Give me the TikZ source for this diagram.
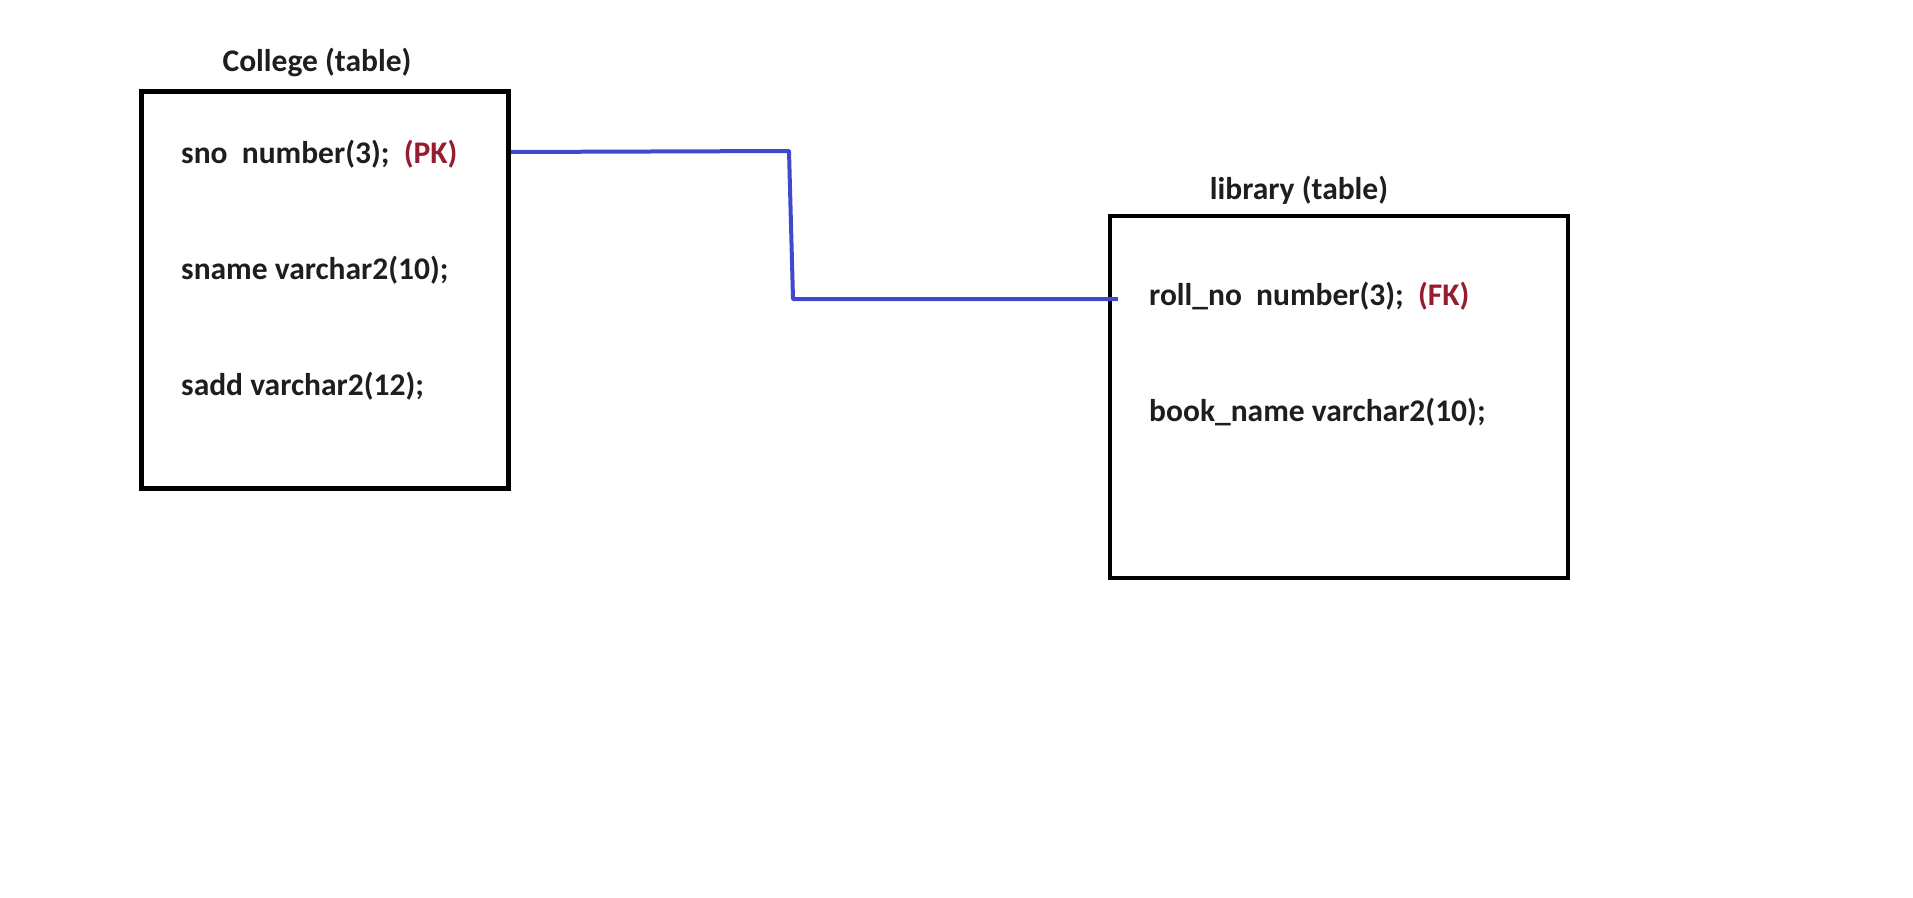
\documentclass[tikz,border=0pt]{standalone}
\usepackage{fontspec}
\setmainfont{Carlito}
\usepackage{color}
\definecolor{mytext}{RGB}{30,30,30}
\definecolor{mykeyred}{RGB}{150,28,48}
\definecolor{myblue}{RGB}{66,72,204}
\usepackage{tikz}
\usetikzlibrary{calc,positioning}
\tikzstyle{tablebox}=[draw=black,line width=4.5pt,rectangle,inner sep=0pt]
\tikzstyle{tabletitle}=[text=mytext,font=\fontsize{31.5}{36}\selectfont\bfseries,inner sep=0pt,anchor=base]
\tikzstyle{field}=[text=mytext,font=\fontsize{31.5}{36}\selectfont\bfseries,inner sep=0pt,anchor=base west]
\tikzstyle{link}=[draw=myblue,line width=4pt,line join=round]

\begin{document}
\begin{tikzpicture}[x=1pt,y=-1pt]
\useasboundingbox (0,0) rectangle (1913,897);

\node [tablebox, minimum width=367pt, minimum height=397pt] (college) at (325,290) {};
\node [tabletitle] (collegetitle) at (317,71) {College (table)};
\node [field] (sno) at (181,163) {sno\ \ number(3);\ \ \textcolor{mykeyred}{(PK)}};
\node [field] (sname) at (181,279) {sname varchar2(10);};
\node [field] (sadd) at (181,395) {sadd varchar2(12);};

\node [tablebox, minimum width=458pt, minimum height=362pt] (library) at (1339,397) {};
\node [tabletitle] (librarytitle) at (1299,199) {library (table)};
\node [field] (rollno) at (1149,305) {roll\_no\ \ number(3);\ \ \textcolor{mykeyred}{(FK)}};
\node [field] (bookname) at (1149,421) {book\_name varchar2(10);};

\coordinate (bendtop) at (789,151);
\coordinate (bendbottom) at (793,299);
\draw [link] (college.east |- 0,152) -- (bendtop) -- (bendbottom) -- ($(library.west |- 0,299)+(10,0)$);
\end{tikzpicture}
\end{document}
